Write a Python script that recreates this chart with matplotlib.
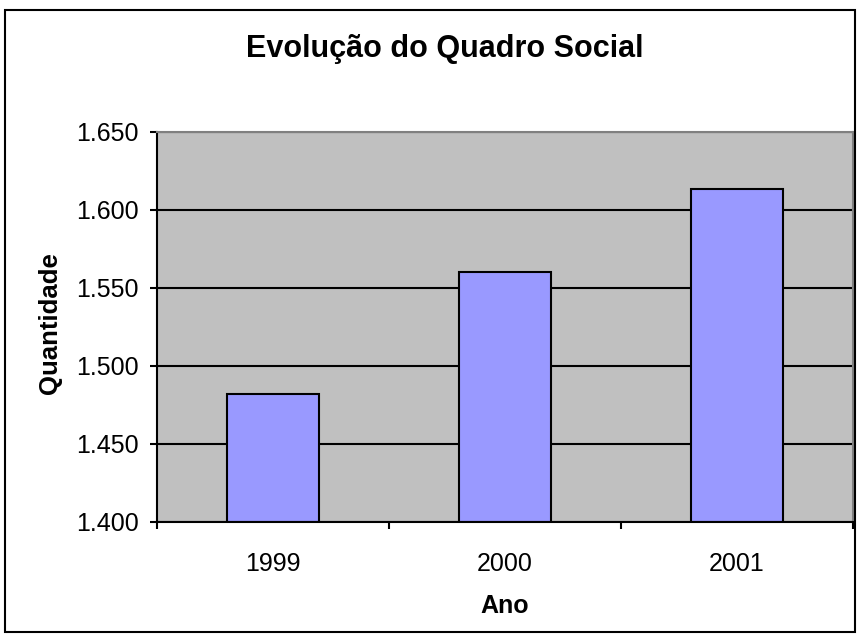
import matplotlib
matplotlib.use("Agg")
import matplotlib.pyplot as plt
from matplotlib.patches import Rectangle
from matplotlib.ticker import FuncFormatter

categories = ["1999", "2000", "2001"]
values = [1482, 1560, 1613]
title = "Evolução do Quadro Social"
xlabel = "Ano"
ylabel = "Quantidade"
yticks = [1400, 1450, 1500, 1550, 1600, 1650]

plt.rcParams['font.family'] = ['Liberation Sans', 'DejaVu Sans']

fig = plt.figure(figsize=(8.6, 6.37), dpi=100)
W, H = 860, 637
ax = fig.add_axes([157 / W, 1 - 521.7 / H, (853 - 157) / W, (521.7 - 131.7) / H])

# outer border
fig.patches.append(Rectangle((5 / W, 5 / H), 850 / W, 622 / H, transform=fig.transFigure,
                             fill=False, edgecolor='black', linewidth=1.5))

ax.set_facecolor('#C0C0C0')
x = list(range(len(categories)))
ax.set_ylim(yticks[0], yticks[-1])
ax.set_xlim(-0.5, len(categories) - 0.5)
ax.set_yticks(yticks)
ax.yaxis.set_major_formatter(FuncFormatter(lambda v, p: f"{v/1000:.3f}"))
ax.grid(axis='y', color='black', linewidth=1.5, zorder=1)
ax.set_axisbelow(True)
ax.bar(x, [v - yticks[0] for v in values], bottom=yticks[0], width=0.4,
       color='#9999FF', edgecolor='black', linewidth=1.5, zorder=2)

ax.set_xticks([i - 0.5 for i in range(len(categories) + 1)])
ax.set_xticklabels([])
ax.set_xticks(x, minor=True)
ax.set_xticklabels(categories, minor=True)
ax.tick_params(axis='x', which='major', length=5, width=1.5, direction='out')
ax.tick_params(axis='x', which='minor', length=0, pad=22, labelsize=18)
ax.tick_params(axis='y', length=5, width=1.5, direction='out', pad=8, labelsize=18)

for s in ['top', 'right']:
    ax.spines[s].set_color('#808080')
    ax.spines[s].set_linewidth(1.5)
for s in ['left', 'bottom']:
    ax.spines[s].set_color('black')
    ax.spines[s].set_linewidth(1.5)

fig.text(445 / W, 1 - 49 / H, title, ha='center', va='center', fontsize=22, fontweight='bold')
fig.text(505 / W, 1 - 606 / H, xlabel, ha='center', va='center', fontsize=18, fontweight='bold')
fig.text(50 / W, 1 - 323 / H, ylabel, ha='center', va='center', rotation=90, fontsize=18.5, fontweight='bold')

fig.savefig("out.png", dpi=100)
